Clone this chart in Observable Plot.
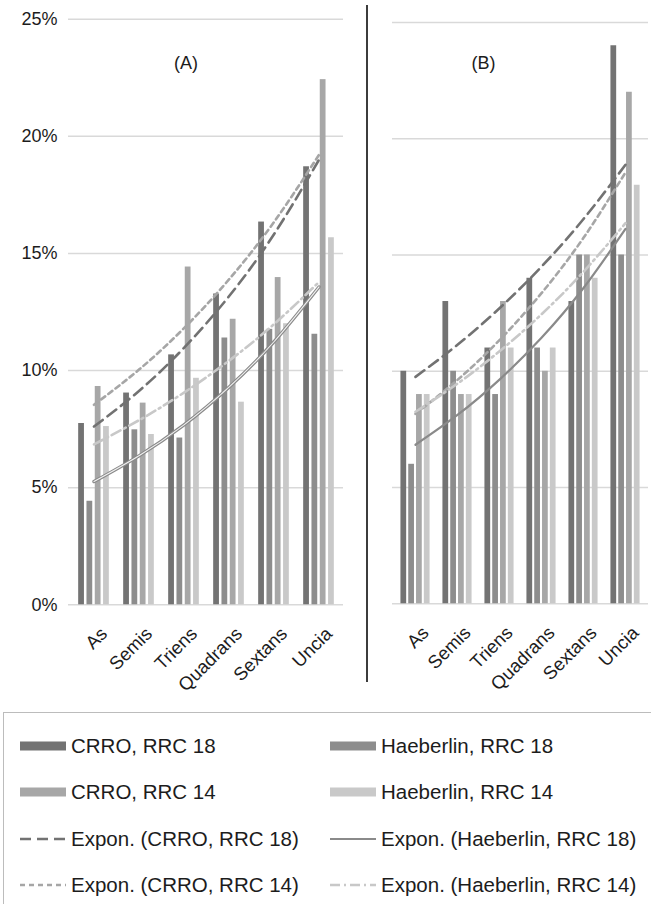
<!DOCTYPE html>
<html>
<head>
<meta charset="utf-8">
<script src="https://cdn.jsdelivr.net/npm/d3@7"></script>
<script src="https://cdn.jsdelivr.net/npm/@observablehq/plot@0.6"></script>
<style>
  body { margin: 0; background: #fff; }
  #wrap { position: relative; width: 651px; height: 904px; overflow: hidden;
          font-family: "Liberation Sans", Arial, sans-serif; background: #fff; }
  #chartA { position: absolute; left: 0; top: 0; }
  #chartB { position: absolute; left: 367px; top: 0; }
  #divider { position: absolute; left: 366px; top: 5px; width: 1.6px; height: 677px; background: #3c3c3c; }
  #legend { position: absolute; left: 3px; top: 712px; width: 670px; height: 220px;
            border: 1.2px solid #bcbcbc; box-sizing: border-box; }
  .item { position: absolute; display: flex; align-items: center; height: 30px;
          font-size: 20.5px; color: #1c1c1c; white-space: nowrap; }
  .item svg { margin-right: 5px; }
</style>
</head>
<body>
<div id="wrap">
  <div id="chartA"></div>
  <div id="chartB"></div>
  <div id="divider"></div>
  <div id="legend"></div>
</div>
<script>
// Coin denominations along the x axis
const denominations = ["As", "Semis", "Triens", "Quadrans", "Sextans", "Uncia"];
const seriesNames = ["CRRO, RRC 18", "Haeberlin, RRC 18", "CRRO, RRC 14", "Haeberlin, RRC 14"];
const trendNames = ["Expon. (CRRO, RRC 18)", "Expon. (Haeberlin, RRC 18)", "Expon. (CRRO, RRC 14)", "Expon. (Haeberlin, RRC 14)"];
const yTicks = [0, 5, 10, 15, 20, 25];

// Panel (A), percentages per denomination
const crro18A = [7.74, 9.04, 10.67, 13.27, 16.34, 18.70];
const haeb18A = [4.42, 7.47, 7.12, 11.39, 11.76, 11.55];
const crro14A = [9.32, 8.61, 14.42, 12.19, 13.97, 22.42];
const haeb14A = [7.61, 7.27, 9.67, 8.65, 12.00, 15.67];

// Panel (B), percentages per denomination
const crro18B = [10, 13, 11, 14, 13, 24];
const haeb18B = [6, 10, 9, 11, 15, 15];
const crro14B = [9, 9, 13, 10, 15, 22];
const haeb14B = [9, 9, 11, 11, 14, 18];

// Exponential trend lines, value at each denomination
const trendCrro18A = [7.61, 9.13, 10.97, 13.17, 15.82, 19.00];
const trendHaeb18A = [5.26, 6.36, 7.68, 9.29, 11.23, 13.57];
const trendCrro14A = [8.54, 10.04, 11.81, 13.89, 16.34, 19.21];
const trendHaeb14A = [6.85, 7.88, 9.06, 10.42, 11.98, 13.78];

const trendCrro18B = [9.76, 11.14, 12.71, 14.50, 16.55, 18.88];
const trendHaeb18B = [6.84, 8.12, 9.64, 11.44, 13.58, 16.12];
const trendCrro14B = [8.17, 9.63, 11.34, 13.36, 15.74, 18.55];
const trendHaeb14B = [8.26, 9.47, 10.86, 12.45, 14.28, 16.37];

const barColors = ["#737373", "#8d8d8d", "#a7a7a7", "#c9c9c9"];
const trendStyles = [
  {stroke: "#727272", strokeWidth: 2.6, strokeDasharray: "11,6"},
  {stroke: "#8a8a8a", strokeWidth: 2.2, strokeDasharray: null},
  {stroke: "#a6a6a6", strokeWidth: 2.6, strokeDasharray: "5,4"},
  {stroke: "#c8c8c8", strokeWidth: 2.6, strokeDasharray: "10,4,2,4"}
];

const rows = (vals) => denominations.map((d, i) => ({denom: d, value: vals[i]}));

function panel({bars, trends, width, height, marginLeft, marginRight, marginTop, marginBottom,
                label, labelDx, labelDy, showY, hollowHaeb18, barW, barStep}) {
  const bandW = (width - marginLeft - marginRight) / denominations.length;
  const groupW = 3 * barStep + barW;
  const marks = [
    Plot.ruleY(yTicks, {stroke: "#d9d9d9", strokeWidth: 1.5})
  ];
  bars.forEach((vals, i) => {
    const left = (bandW - groupW) / 2 + i * barStep;
    marks.push(Plot.barY(rows(vals), {
      x: "denom", y: "value", fill: barColors[i],
      insetLeft: left, insetRight: bandW - left - barW
    }));
  });
  trends.forEach((vals, i) => {
    const s = trendStyles[i];
    if (i === 1 && hollowHaeb18) {
      marks.push(Plot.line(rows(vals), {x: "denom", y: "value", curve: "natural", stroke: s.stroke, strokeWidth: 3.4}));
      marks.push(Plot.line(rows(vals), {x: "denom", y: "value", curve: "natural", stroke: "#f2f2f2", strokeWidth: 1.1}));
    } else {
      marks.push(Plot.line(rows(vals), {
        x: "denom", y: "value", curve: "natural",
        stroke: s.stroke, strokeWidth: s.strokeWidth, strokeDasharray: s.strokeDasharray
      }));
    }
  });
  marks.push(Plot.text([label], {frameAnchor: "top", dx: labelDx, dy: labelDy, fontSize: 18, fill: "#1c1c1c"}));
  if (showY) {
    marks.push(Plot.axisY({ticks: yTicks, tickFormat: d => d + "%", tickSize: 0, tickPadding: 11,
                           fontSize: 18, fill: "#1c1c1c", label: null}));
  }
  marks.push(Plot.axisX({tickRotate: -45, tickSize: 0, tickPadding: 6, dx: 10, dy: 20,
                         fontSize: 18.5, fill: "#1c1c1c", label: null}));
  return Plot.plot({
    width, height, marginLeft, marginRight, marginTop, marginBottom,
    style: {fontFamily: "Liberation Sans, Arial, sans-serif", background: "transparent", overflow: "visible"},
    x: {type: "band", domain: denominations, padding: 0, axis: null, label: null},
    y: {domain: [0, 25], axis: null, label: null},
    marks
  });
}

document.getElementById("chartA").append(panel({
  bars: [crro18A, haeb18A, crro14A, haeb14A],
  trends: [trendCrro18A, trendHaeb18A, trendCrro14A, trendHaeb14A],
  width: 350, height: 710, marginLeft: 68, marginRight: 7, marginTop: 18.7, marginBottom: 105.7,
  label: "(A)", labelDx: -20, labelDy: 37, showY: true, hollowHaeb18: true, barW: 6.6, barStep: 8.3
}));

document.getElementById("chartB").append(panel({
  bars: [crro18B, haeb18B, crro14B, haeb14B],
  trends: [trendCrro18B, trendHaeb18B, trendCrro14B, trendHaeb14B],
  width: 284, height: 710, marginLeft: 25, marginRight: 3, marginTop: 22, marginBottom: 106.7,
  label: "(B)", labelDx: -37, labelDy: 34, showY: false, hollowHaeb18: false, barW: 6.4, barStep: 7.8
}));

// Legend: two columns, bar swatches then trend-line swatches
const legend = document.getElementById("legend");
const legendRows = [33, 79, 126, 172];
const legendCols = [16, 326];
const swatchW = 46;
function swatchSvg(kind, i) {
  const ns = "http://www.w3.org/2000/svg";
  const svg = document.createElementNS(ns, "svg");
  svg.setAttribute("width", swatchW);
  svg.setAttribute("height", 14);
  if (kind === "bar") {
    const r = document.createElementNS(ns, "rect");
    r.setAttribute("x", 0); r.setAttribute("y", 2.5);
    r.setAttribute("width", swatchW); r.setAttribute("height", 9);
    r.setAttribute("fill", barColors[i]);
    svg.append(r);
  } else {
    const s = trendStyles[i];
    const l = document.createElementNS(ns, "line");
    l.setAttribute("x1", 0); l.setAttribute("x2", swatchW);
    l.setAttribute("y1", 7); l.setAttribute("y2", 7);
    l.setAttribute("stroke", s.stroke);
    l.setAttribute("stroke-width", s.strokeWidth);
    if (s.strokeDasharray) l.setAttribute("stroke-dasharray", s.strokeDasharray);
    svg.append(l);
  }
  return svg;
}
const entries = [];
seriesNames.forEach((n, i) => entries.push({kind: "bar", i, name: n}));
trendNames.forEach((n, i) => entries.push({kind: "line", i, name: n}));
entries.forEach((e) => {
  const div = document.createElement("div");
  div.className = "item";
  div.style.left = legendCols[e.i % 2 === 0 ? 0 : 1] + "px";
  const row = (e.kind === "bar" ? 0 : 2) + (e.i < 2 ? 0 : 1);
  div.style.top = (legendRows[row] - 15) + "px";
  div.append(swatchSvg(e.kind, e.i));
  const span = document.createElement("span");
  span.textContent = e.name;
  div.append(span);
  legend.append(div);
});
</script>
</body>
</html>
